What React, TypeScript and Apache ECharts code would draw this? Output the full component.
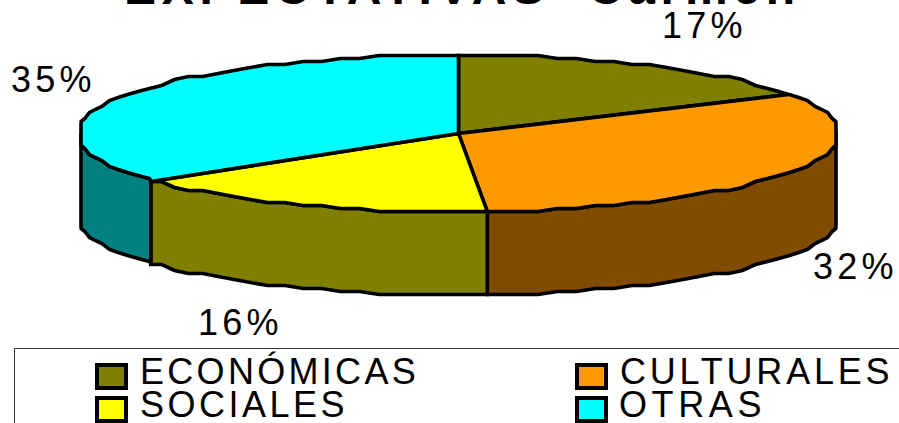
import React, { useEffect, useRef } from "react";
import * as echarts from "echarts";

const categories = ["ECONÓMICAS", "CULTURALES", "SOCIALES", "OTRAS"];
const shares = [16.6, 32.2, 16.1, 35.1];
const topColors = ["#808000", "#FF9900", "#FFFF00", "#00FFFF"];
const wallColors = ["#404000", "#804C00", "#808000", "#008080"];
const titleText = "EXPECTATIVAS  Carmen";

const CX = 458.5;
const CY = 133.5;
const RX = 382;
const RY = 78.5;
const CLAMP = 377.5;
const DEPTH = 83;
const STEP = 3;
const JAG = 3;
const FRONT_START = 90;
const FRONT_END = 270;
const ASCENT_36 = 31;
const ASCENT_48 = 42;

const labelPlacement = [
  { x: 662, y: 38 },
  { x: 813, y: 279 },
  { x: 198, y: 335 },
  { x: 11, y: 92 },
];
const legendPlacement = [
  { box: 96, text: 140, row: 0, spacing: 3.3 },
  { box: 576, text: 620, row: 0, spacing: 3.8 },
  { box: 96, text: 140, row: 1, spacing: 3.5 },
  { box: 576, text: 619, row: 1, spacing: 4.6 },
];

const total = shares.reduce((a, b) => a + b, 0);
function bounds(i: number): [number, number] {
  let before = 0;
  for (let k = 0; k < i; k++) before += shares[k];
  return [(before / total) * 360, ((before + shares[i]) / total) * 360];
}

function rimPoint(deg: number, drop: number): [number, number] {
  const t = (deg * Math.PI) / 180;
  const dx = Math.max(-CLAMP, Math.min(CLAMP, RX * Math.sin(t)));
  const dy = Math.round((-RY * Math.cos(t)) / JAG) * JAG;
  return [CX + dx, CY + dy + drop];
}

function arcPoints(from: number, to: number, drop: number): [number, number][] {
  const pts: [number, number][] = [];
  const first = Math.ceil(from / STEP) * STEP;
  pts.push(rimPoint(from, drop));
  for (let a = first; a < to; a += STEP) {
    if (a > from) pts.push(rimPoint(a, drop));
  }
  pts.push(rimPoint(to, drop));
  return pts;
}

const outline = { stroke: "#000", lineWidth: 3.6, lineJoin: "miter" as const };

function renderWall(params: any) {
  const [a, b] = bounds(params.dataIndex);
  const from = Math.max(a, FRONT_START);
  const to = Math.min(b, FRONT_END);
  if (to <= from) return { type: "group", children: [] };
  const top = arcPoints(from, to, 0);
  const bottom = arcPoints(from, to, DEPTH).reverse();
  return {
    type: "polygon",
    shape: { points: [...top, ...bottom] },
    style: { fill: wallColors[params.dataIndex], ...outline },
  };
}

function renderTop(params: any) {
  const [a, b] = bounds(params.dataIndex);
  return {
    type: "polygon",
    shape: { points: [[CX, CY], ...arcPoints(a, b, 0)] },
    style: { fill: topColors[params.dataIndex], ...outline },
  };
}

const FONT = '"Liberation Sans", Arial, sans-serif';

function buildGraphic() {
  const items: any[] = [
    {
      type: "rect",
      shape: { x: 14.5, y: 348.5, width: 1000, height: 200 },
      style: { fill: "#fff", stroke: "#333", lineWidth: 1 },
    },
    {
      type: "text",
      x: 124,
      y: 5 - ASCENT_48,
      style: { text: titleText, font: `bold 48px ${FONT}`, fill: "#000" },
    },
  ];
  shares.forEach((v, i) => {
    items.push({
      type: "text",
      x: labelPlacement[i].x,
      y: labelPlacement[i].y - ASCENT_36,
      style: { text: `${Math.round(v)}%`, font: `36px ${FONT}`, fill: "#000" },
    });
  });
  categories.forEach((name, i) => {
    const p = legendPlacement[i];
    const rowY = p.row * 33;
    items.push({
      type: "rect",
      shape: { x: p.box + 1, y: 365 + rowY, width: 29, height: 23 },
      style: { fill: topColors[i], stroke: "#000", lineWidth: 4 },
    });
    items.push({
      type: "text",
      x: p.text,
      y: 384 + rowY - ASCENT_36,
      style: { text: name, font: `36px ${FONT}`, fill: "#000" },
    });
  });
  return items;
}

export default function App() {
  const ref = useRef<HTMLDivElement>(null);
  useEffect(() => {
    document.body.style.margin = "0";
    document.documentElement.style.overflow = "hidden";
    const chart = echarts.init(ref.current!, undefined, { renderer: "svg" });
    chart.setOption({
      animation: false,
      backgroundColor: "#fff",
      graphic: { elements: buildGraphic() },
      series: [
        {
          type: "custom",
          coordinateSystem: "none",
          data: shares,
          renderItem: renderWall,
          z: 2,
          silent: true,
        },
        {
          type: "custom",
          coordinateSystem: "none",
          data: shares,
          renderItem: renderTop,
          z: 3,
          silent: true,
        },
      ],
    });
    ref.current!.querySelectorAll("text").forEach((el) => {
      const t = el.textContent || "";
      const idx = categories.indexOf(t);
      const spacing = t === titleText ? 5.7 : idx >= 0 ? legendPlacement[idx].spacing : 4.2;
      (el as SVGTextElement).style.letterSpacing = `${spacing}px`;
    });
    return () => chart.dispose();
  }, []);
  return <div ref={ref} style={{ width: 899, height: 423, overflow: "hidden" }} />;
}
